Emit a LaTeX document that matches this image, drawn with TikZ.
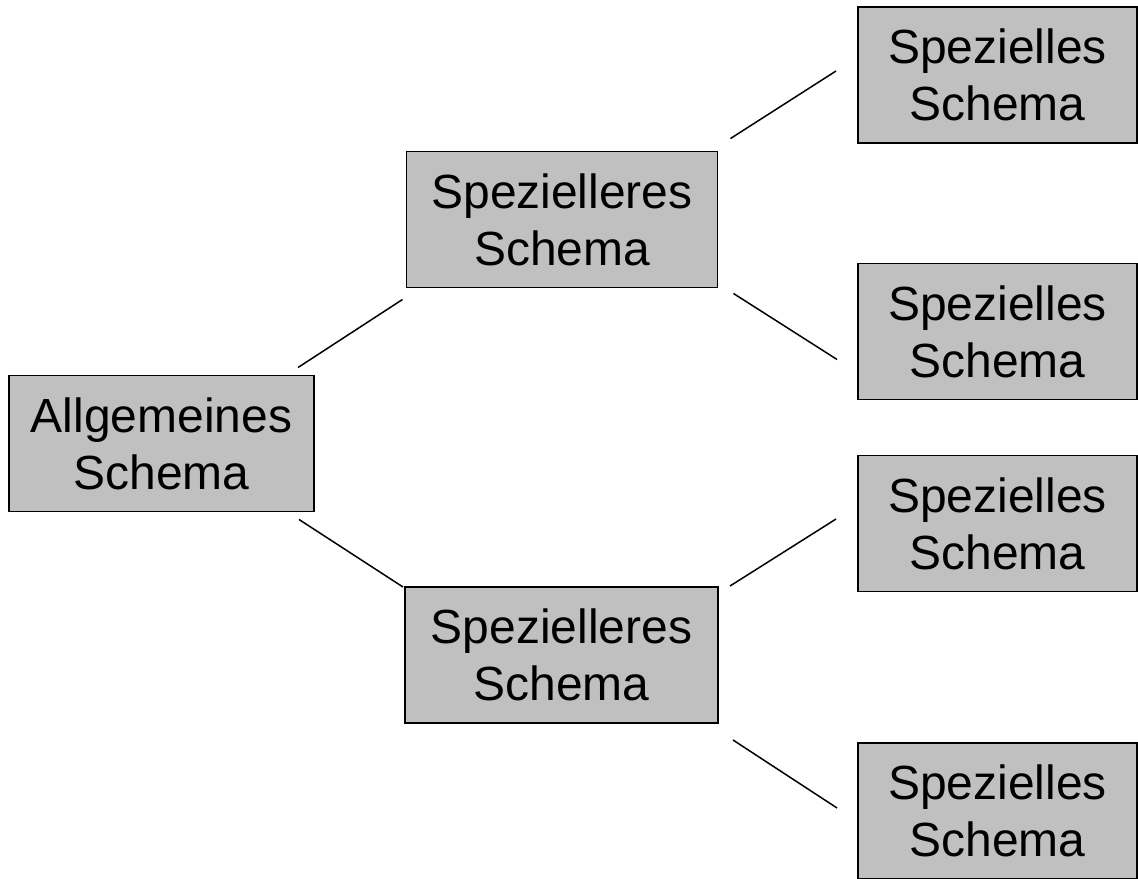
\documentclass[tikz,border=0pt]{standalone}
\usepackage{fontspec}
\setmainfont{Liberation Sans}
\usetikzlibrary{calc}
\definecolor{boxgray}{HTML}{C0C0C0}

\begin{document}
\begin{tikzpicture}[
    x=0.02cm, y=-0.02cm,
    schema/.style={
      draw, line width=1.1pt, fill=boxgray,
      align=center, inner sep=0pt,
      minimum height=136*0.02cm,
      font=\fontsize{27.3}{32.4}\selectfont
    },
    link/.style={
      line width=0.85pt
    }
  ]
    \useasboundingbox (0,0) rectangle (1138,878);

    % left
    \node[schema,minimum width=305*0.02cm] (Allg) at (161.5,443.5) {Allgemeines\\Schema};

    % middle
    \node[schema,minimum width=311*0.02cm] (SpezA) at (562,219.5) {Spezielleres\\Schema};
    \node[schema,minimum width=313*0.02cm] (SpezB) at (561.5,655) {Spezielleres\\Schema};

    % right
    \node[schema,minimum width=279*0.02cm] (SpA) at (997.5,75)    {Spezielles\\Schema};
    \node[schema,minimum width=279*0.02cm] (SpB) at (997.5,331.5) {Spezielles\\Schema};
    \node[schema,minimum width=279*0.02cm] (SpC) at (997.5,523.5) {Spezielles\\Schema};
    \node[schema,minimum width=279*0.02cm] (SpD) at (997.5,811)   {Spezielles\\Schema};

    % line ends
    \coordinate (AllgU) at ($(Allg.north east)+(-17,-7)$);
    \coordinate (AllgD) at ($(Allg.south east)+(-16,7)$);
    \coordinate (SpezAL) at ($(SpezA.south west)+(-3,11)$);
    \coordinate (SpezBL) at ($(SpezB.north west)+(-1,1)$);
    \coordinate (SpezAU) at ($(SpezA.north east)+(12,-12)$);
    \coordinate (SpezAD) at ($(SpezA.south east)+(15,5)$);
    \coordinate (SpezBU) at ($(SpezB.north east)+(11,0)$);
    \coordinate (SpezBD) at ($(SpezB.south east)+(14,16)$);
    \coordinate (SpAL) at ($(SpA.west)+(-21,-4)$);
    \coordinate (SpBL) at ($(SpB.west)+(-20,28)$);
    \coordinate (SpCL) at ($(SpC.west)+(-21,-4.5)$);
    \coordinate (SpDL) at ($(SpD.west)+(-20,-3)$);

    % lines
    \draw[link] (AllgU) -- (SpezAL);
    \draw[link] (AllgD) -- (SpezBL);
    \draw[link] (SpezAU) -- (SpAL);
    \draw[link] (SpezAD) -- (SpBL);
    \draw[link] (SpezBU) -- (SpCL);
    \draw[link] (SpezBD) -- (SpDL);
  \end{tikzpicture}
\end{document}
